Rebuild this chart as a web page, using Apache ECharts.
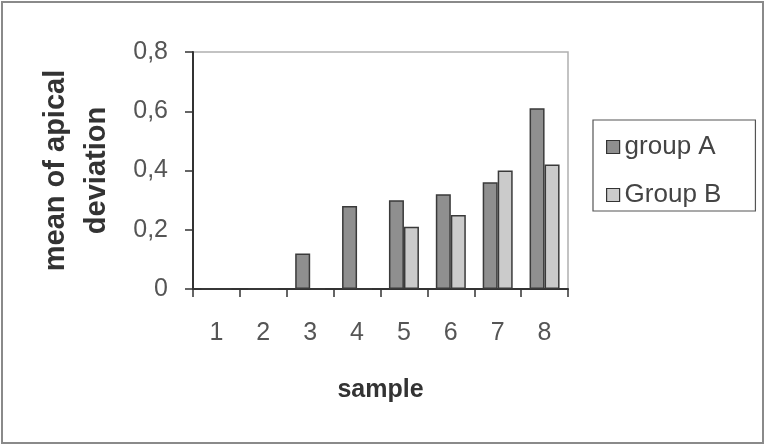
<!DOCTYPE html>
<html>
<head>
<meta charset="utf-8">
<script src="https://cdn.jsdelivr.net/npm/echarts@6/dist/echarts.min.js"></script>
<style>
html,body{margin:0;padding:0;background:#fff;}
#chart{width:766px;height:446px;}
</style>
</head>
<body>
<div id="chart"></div>
<script>
const categories = ['1','2','3','4','5','6','7','8'];
const groupA = [0, 0, 0.12, 0.28, 0.30, 0.32, 0.36, 0.61];
const groupB = [0, 0, 0, 0, 0.21, 0.25, 0.40, 0.42];
const yTicks = { min: 0, max: 0.8, interval: 0.2 };

const FONT = 'Liberation Sans, Arial, sans-serif';
const chart = echarts.init(document.getElementById('chart'), null, {renderer: 'canvas'});
chart.setOption({
  backgroundColor: '#ffffff',
  animation: false,
  textStyle: { fontFamily: FONT },
  grid: { left: 193, right: 198, top: 52, bottom: 157, show: true, borderColor: '#b0b0b0', borderWidth: 1.5, backgroundColor: 'transparent' },
  legend: {
    orient: 'vertical',
    left: 593, top: 120,
    padding: [14, 34, 3, 13],
    itemGap: 22,
    itemWidth: 13, itemHeight: 13,
    borderColor: '#555', borderWidth: 1.2,
    textStyle: { fontSize: 26, color: '#444', fontFamily: FONT },
    data: [
      { name: 'group A', icon: 'rect', itemStyle: { borderColor: '#333', borderWidth: 1.2 } },
      { name: 'Group B', icon: 'rect', itemStyle: { borderColor: '#333', borderWidth: 1.2 } }
    ]
  },
  xAxis: {
    type: 'category',
    data: categories,
    name: 'sample',
    nameLocation: 'middle',
    nameGap: 89,
    nameTextStyle: { fontSize: 25, fontWeight: 'bold', color: '#333', fontFamily: FONT },
    axisLine: { lineStyle: { color: '#333', width: 2 } },
    axisTick: { show: true, inside: false, length: 8, lineStyle: { color: '#333', width: 1.5 } },
    axisLabel: { fontSize: 25, color: '#555', margin: 32, fontFamily: FONT }
  },
  yAxis: {
    type: 'value',
    min: yTicks.min, max: yTicks.max, interval: yTicks.interval,
    name: 'mean of apical\ndeviation',
    nameLocation: 'middle',
    nameRotate: 90,
    nameGap: 76,
    nameTextStyle: { fontSize: 29, fontWeight: 'bold', color: '#333', lineHeight: 41, align: 'center', fontFamily: FONT },
    splitLine: { show: false },
    axisLine: { show: true, lineStyle: { color: '#333', width: 2 } },
    axisTick: { show: true, inside: false, length: 8, lineStyle: { color: '#333', width: 1.5 } },
    axisLabel: {
      fontSize: 25, color: '#555', margin: 25, fontFamily: FONT,
      formatter: v => String(Math.round(v * 10) / 10).replace('.', ',')
    }
  },
  series: [
    {
      name: 'group A', type: 'bar', data: groupA,
      barWidth: 15, barGap: '0%',
      itemStyle: { color: '#8f8f8f', borderColor: '#3a3a3a', borderWidth: 1.5 }
    },
    {
      name: 'Group B', type: 'bar', data: groupB,
      barWidth: 15,
      itemStyle: { color: '#cbcbcb', borderColor: '#3a3a3a', borderWidth: 1.5 }
    }
  ],
  graphic: [
    { type: 'rect', shape: { x: 2, y: 2, width: 761, height: 441 }, style: { fill: 'none', stroke: '#8a8a8a', lineWidth: 2 }, silent: true }
  ]
});
</script>
</body>
</html>
